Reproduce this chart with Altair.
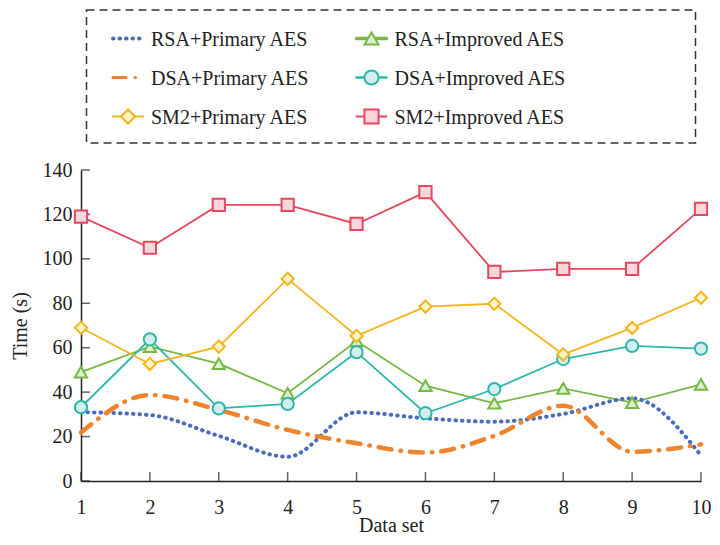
import altair as alt
import pandas as pd

data_sets = list(range(1, 11))
series_names = ["RSA+Primary AES", "RSA+Improved AES", "DSA+Primary AES",
                "DSA+Improved AES", "SM2+Primary AES", "SM2+Improved AES"]

rsa_primary = [31.0, 29.7, 20.3, 10.9, 30.9, 28.2, 26.7, 30.2, 37.2, 11.5]
rsa_improved = [49.0, 60.5, 52.8, 39.5, 63.0, 42.9, 35.0, 41.7, 35.3, 43.5]
dsa_primary = [21.8, 38.7, 32.0, 23.0, 17.0, 12.8, 20.3, 33.9, 13.2, 16.5]
dsa_improved = [33.2, 63.8, 32.7, 34.7, 58.0, 30.5, 41.4, 54.9, 60.8, 59.6]
sm2_primary = [69.0, 52.7, 60.5, 91.0, 65.3, 78.5, 79.8, 57.0, 68.9, 82.5]
sm2_improved = [119.0, 105.0, 124.3, 124.3, 115.7, 130.0, 94.1, 95.5, 95.5, 122.5]

y_ticks = [0, 20, 40, 60, 80, 100, 120, 140]

# legend grid position of each series (two columns, three rows)
legend_cols = [0, 1, 0, 1, 0, 1]
legend_rows = [0, 0, 1, 1, 2, 2]

colors = ["#4a6cc0", "#76b843", "#f0842e", "#2bb8aa", "#f3b51b", "#e6475e"]
fills = ["#4a6cc0", "#def0d2", "#f0842e", "#d3eeec", "#fff3c9", "#f9d7dc"]
shapes = ["circle", "triangle-up", "circle", "circle", "diamond", "square"]
dashes = [[0.5, 6], [1, 0], [13, 9, 0.5, 9], [1, 0], [1, 0], [1, 0]]
widths = [4, 1.8, 4.5, 1.8, 1.8, 1.8]
marker_sizes = [150, 150, 150, 150, 120, 150]

all_values = [rsa_primary, rsa_improved, dsa_primary, dsa_improved, sm2_primary, sm2_improved]
rows = []
for name, vals in zip(series_names, all_values):
    for x, v in zip(data_sets, vals):
        rows.append({"set": x, "series": name, "time": v})
df = pd.DataFrame(rows)

legend_df = pd.DataFrame({"series": series_names, "col": legend_cols, "row": legend_rows})

FONT = "Liberation Serif"
marker_names = ["RSA+Improved AES", "DSA+Improved AES", "SM2+Primary AES", "SM2+Improved AES"]

color_scale = alt.Scale(domain=series_names, range=colors)
fill_scale = alt.Scale(domain=series_names, range=fills)
shape_scale = alt.Scale(domain=series_names, range=shapes)
dash_scale = alt.Scale(domain=series_names, range=dashes)
width_scale = alt.Scale(domain=series_names, range=widths)

# ---------------- main plot ----------------
x_enc = alt.X("set:Q", scale=alt.Scale(domain=[1, 10], nice=False, zero=False),
              axis=alt.Axis(values=data_sets, title="Data set", ticks=False,
                            grid=False, labelFlush=False, labelOverlap=False,
                            labelPadding=16, titlePadding=-2, format="d"))
y_enc = alt.Y("time:Q", scale=alt.Scale(domain=[0, 140], nice=False, zero=True),
              axis=alt.Axis(values=y_ticks, title="Time (s)", ticks=False,
                            grid=False, labelPadding=9, titlePadding=12))

base = alt.Chart(df)
color = alt.Color("series:N", scale=color_scale, legend=None)

rsa_line = base.transform_filter(alt.datum.series == "RSA+Primary AES").mark_line(
    interpolate="monotone", strokeDash=dashes[0], strokeCap="round", strokeWidth=widths[0]
).encode(x=x_enc, y=y_enc, color=color)

dsa_line = base.transform_filter(alt.datum.series == "DSA+Primary AES").mark_line(
    interpolate="monotone", strokeDash=dashes[2], strokeCap="round", strokeWidth=widths[2]
).encode(x=x_enc, y=y_enc, color=color)

solid_lines = base.transform_filter(
    alt.FieldOneOfPredicate(field="series", oneOf=marker_names)
).mark_line(strokeWidth=1.8).encode(x=x_enc, y=y_enc, color=color, detail="series:N")

size_scale = alt.Scale(domain=series_names, range=marker_sizes)
points = base.transform_filter(
    alt.FieldOneOfPredicate(field="series", oneOf=marker_names)
).mark_point(filled=False, strokeWidth=2, opacity=1).encode(
    x=x_enc, y=y_enc,
    stroke=alt.Stroke("series:N", scale=color_scale, legend=None),
    fill=alt.Fill("series:N", scale=fill_scale, legend=None),
    shape=alt.Shape("series:N", scale=shape_scale, legend=None),
    size=alt.Size("series:N", scale=size_scale, legend=None),
)

tick_df_y = pd.DataFrame({"v": y_ticks})
tick_df_x = pd.DataFrame({"v": data_sets})
y_ticks_layer = alt.Chart(tick_df_y).mark_tick(
    orient="horizontal", size=9, thickness=1.5, color="#222", xOffset=4.5
).encode(x=alt.X(datum=1), y=alt.Y("v:Q"))
x_ticks_layer = alt.Chart(tick_df_x).mark_tick(
    orient="vertical", size=9, thickness=1.5, color="#222", yOffset=-4.5
).encode(x=alt.X("v:Q"), y=alt.Y(datum=0))

main = alt.layer(
    y_ticks_layer, x_ticks_layer, solid_lines, rsa_line, dsa_line, points
).properties(width=620, height=311)

# ---------------- legend panel ----------------
lx = alt.X("col:Q", scale=alt.Scale(domain=[0, 1], range=[41.5, 285]), axis=None)
ly = alt.Y("row:Q", scale=alt.Scale(domain=[0, 2], range=[28.5, 106.5]), axis=None)
lbase = alt.Chart(legend_df)

leg_lines = lbase.mark_rule(xOffset=-15, x2Offset=15, strokeCap="round").encode(
    x=lx, x2="col:Q", y=ly,
    color=alt.Color("series:N", scale=color_scale, legend=None),
    strokeDash=alt.StrokeDash("series:N", scale=dash_scale, legend=None),
    strokeWidth=alt.StrokeWidth("series:N", scale=width_scale, legend=None),
)
leg_points = lbase.transform_filter(
    alt.FieldOneOfPredicate(field="series", oneOf=marker_names)
).mark_point(filled=False, strokeWidth=2, opacity=1, size=200).encode(
    x=lx, y=ly,
    stroke=alt.Stroke("series:N", scale=color_scale, legend=None),
    fill=alt.Fill("series:N", scale=fill_scale, legend=None),
    shape=alt.Shape("series:N", scale=shape_scale, legend=None),
)
leg_text = lbase.mark_text(align="left", baseline="middle", dx=23, dy=1,
                           font=FONT, fontSize=20, color="#222").encode(
    x=lx, y=ly, text="series:N")

legend_panel = alt.layer(leg_lines, leg_points, leg_text).properties(
    width=609, height=133,
    view=alt.ViewBackground(stroke="#333", strokeDash=[8, 5], strokeWidth=1.5),
)

chart = alt.vconcat(legend_panel, main, spacing=27, bounds="flush", center=True).properties(
    padding={"left": 2, "top": 1, "right": 0, "bottom": 0},
).configure_view(stroke=None).configure_axis(
    domainColor="#222", domainWidth=1.5,
    labelFont=FONT, labelFontSize=20, labelColor="#222",
    titleFont=FONT, titleFontSize=20, titleColor="#222", titleFontWeight="normal",
)

chart.save("out.html", embed_options={"renderer": "svg", "actions": False})
